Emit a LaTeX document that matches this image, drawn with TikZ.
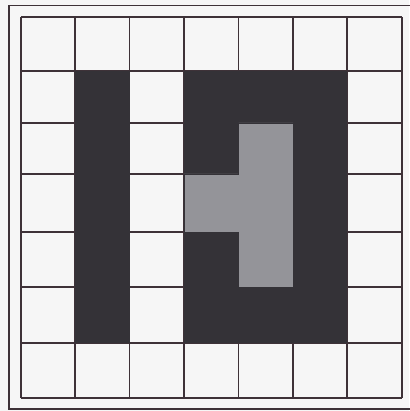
\documentclass[tikz,border=0pt]{standalone}
\definecolor{gridline}{RGB}{62,50,56}
\definecolor{darkcell}{RGB}{52,50,55}
\definecolor{lightcell}{RGB}{148,148,153}
\definecolor{paper}{RGB}{246,246,246}
\begin{document}
\begin{tikzpicture}[x=1pt, y=-1pt, line join=miter,
    gridrule/.style={draw=gridline, line width=1.6pt},
    framerule/.style={draw=gridline, line width=1.4pt},
    darkfill/.style={fill=darkcell},
    lightfill/.style={fill=lightcell, draw=darkcell, line width=0.8pt}]
    \fill[paper] (0,0) rectangle (409,411);
    \useasboundingbox (0,0) rectangle (409,411);
    % grid positions (columns and rows)
    \foreach \v [count=\i from 0] in {21,75,129.5,184,238.5,293,347,402}
        \coordinate (c\i) at (\v,0);
    \foreach \v [count=\i from 0] in {17,71,123,174,232,287,343,398}
        \coordinate (r\i) at (0,\v);
    % outer frame
    \draw[framerule] (9,5.5) rectangle (411,409);
    % grid
    \foreach \i in {0,...,7} {
        \draw[gridrule] (c\i |- r0) -- (c\i |- r7);
        \draw[gridrule] (c0 |- r\i) -- (c7 |- r\i);
    }
    % dark blocks
    \fill[darkfill] (c1 |- r1) rectangle (c2 |- r6);
    \fill[darkfill] (c3 |- r1) rectangle (c6 |- r6);
    % light T shape
    \filldraw[lightfill] (c4 |- r2) -- (c5 |- r2) -- (c5 |- r5) -- (c4 |- r5)
        -- (c4 |- r4) -- (c3 |- r4) -- (c3 |- r3) -- (c4 |- r3) -- cycle;
\end{tikzpicture}
\end{document}
